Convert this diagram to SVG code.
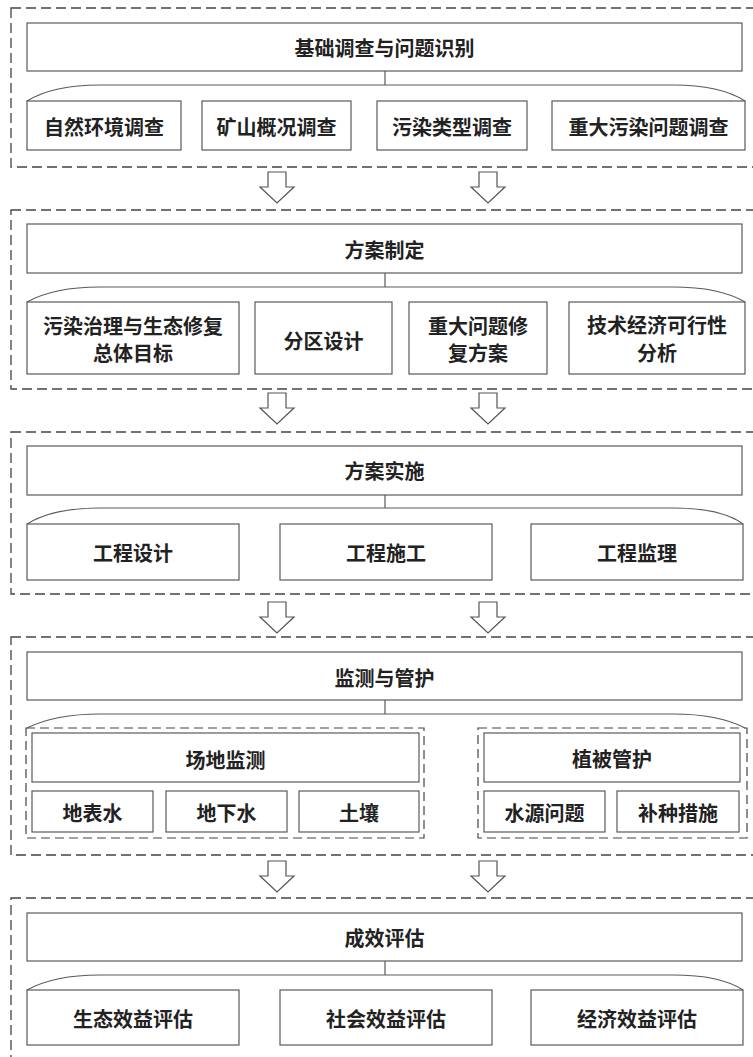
<svg xmlns="http://www.w3.org/2000/svg" width="753" height="1057" viewBox="0 0 753 1057">
<defs>
<style>
.sec{fill:none;stroke:#444;stroke-width:1.3;stroke-dasharray:10 5}
.grp{fill:none;stroke:#444;stroke-width:1.2;stroke-dasharray:9 5}
.box{fill:#fff;stroke:#5a5a5a;stroke-width:1.2}
.t{font-family:"Noto Sans CJK SC","Noto Sans CJK JP",sans-serif;font-size:20px;font-weight:bold;fill:#222;text-anchor:middle;dominant-baseline:central}
.ln{fill:none;stroke:#5a5a5a;stroke-width:1.2}
.arr{fill:#fff;stroke:#555;stroke-width:1.2;stroke-linejoin:miter}
</style>
<path id="arrow" d="M-9,0 H9 V15 H17 L0,31 L-17,15 H-9 Z"/>
</defs>
<rect width="753" height="1057" fill="#fff"/>

<!-- Section 1 -->
<g id="sec1">
<rect class="sec" x="11" y="8" width="746" height="159"/>
<g id="n1"><rect class="box" x="27" y="23" width="715" height="48"/><text class="t" x="384.5" y="47">基础调查与问题识别</text></g>
<g id="n1a"><rect class="box" x="27" y="101" width="154" height="49"/><text class="t" x="104" y="126">自然环境调查</text></g>
<g id="n1b"><rect class="box" x="202" y="101" width="149" height="49"/><text class="t" x="276.5" y="126">矿山概况调查</text></g>
<g id="n1c"><rect class="box" x="377" y="101" width="150" height="49"/><text class="t" x="452" y="126">污染类型调查</text></g>
<g id="n1d"><rect class="box" x="552" y="101" width="193" height="49"/><text class="t" x="648.5" y="126">重大污染问题调查</text></g>
</g>

<!-- Section 2 -->
<g id="sec2">
<rect class="sec" x="11" y="210" width="746" height="179"/>
<g id="n2"><rect class="box" x="27" y="224" width="715" height="49"/><text class="t" x="384.5" y="249">方案制定</text></g>
<g id="n2a"><rect class="box" x="27" y="302" width="212" height="72"/><text class="t" x="133" y="325">污染治理与生态修复</text><text class="t" x="133" y="352">总体目标</text></g>
<g id="n2b"><rect class="box" x="255" y="302" width="137" height="72"/><text class="t" x="323.5" y="340">分区设计</text></g>
<g id="n2c"><rect class="box" x="409" y="302" width="138" height="72"/><text class="t" x="478" y="325">重大问题修</text><text class="t" x="478" y="352">复方案</text></g>
<g id="n2d"><rect class="box" x="569" y="302" width="176" height="72"/><text class="t" x="657" y="324">技术经济可行性</text><text class="t" x="657" y="352">分析</text></g>
</g>

<!-- Section 3 -->
<g id="sec3">
<rect class="sec" x="11" y="432" width="746" height="162"/>
<g id="n3"><rect class="box" x="27" y="446" width="715" height="49"/><text class="t" x="384.5" y="470">方案实施</text></g>
<g id="n3a"><rect class="box" x="27" y="524" width="212" height="56"/><text class="t" x="133" y="552">工程设计</text></g>
<g id="n3b"><rect class="box" x="280" y="524" width="212" height="56"/><text class="t" x="386" y="552">工程施工</text></g>
<g id="n3c"><rect class="box" x="531" y="524" width="212" height="56"/><text class="t" x="637" y="552">工程监理</text></g>
</g>

<!-- Section 4 -->
<g id="sec4">
<rect class="sec" x="11" y="637" width="746" height="218"/>
<g id="n4"><rect class="box" x="27" y="652" width="715" height="48"/><text class="t" x="384.5" y="677">监测与管护</text></g>
<g id="g4a">
<rect class="grp" x="26" y="728" width="398" height="110"/>
<g id="n4a"><rect class="box" x="32" y="733" width="387" height="49"/><text class="t" x="225.5" y="759">场地监测</text></g>
<g id="n4a1"><rect class="box" x="32" y="791" width="121" height="41"/><text class="t" x="92.5" y="812">地表水</text></g>
<g id="n4a2"><rect class="box" x="166" y="791" width="121" height="41"/><text class="t" x="226.5" y="812">地下水</text></g>
<g id="n4a3"><rect class="box" x="299" y="791" width="120" height="41"/><text class="t" x="359" y="812">土壤</text></g>
</g>
<g id="g4b">
<rect class="grp" x="478" y="728" width="269" height="110"/>
<g id="n4b"><rect class="box" x="484" y="733" width="256" height="49"/><text class="t" x="612" y="758">植被管护</text></g>
<g id="n4b1"><rect class="box" x="484" y="791" width="121" height="41"/><text class="t" x="544.5" y="812">水源问题</text></g>
<g id="n4b2"><rect class="box" x="617" y="791" width="122" height="41"/><text class="t" x="678" y="812">补种措施</text></g>
</g>
</g>

<!-- Section 5 -->
<g id="sec5">
<rect class="sec" x="11" y="898" width="746" height="170"/>
<g id="n5"><rect class="box" x="27" y="913" width="715" height="48"/><text class="t" x="384.5" y="937">成效评估</text></g>
<g id="n5a"><rect class="box" x="27" y="990" width="212" height="55"/><text class="t" x="133" y="1018">生态效益评估</text></g>
<g id="n5b"><rect class="box" x="280" y="990" width="212" height="55"/><text class="t" x="386" y="1018">社会效益评估</text></g>
<g id="n5c"><rect class="box" x="531" y="990" width="212" height="55"/><text class="t" x="637" y="1018">经济效益评估</text></g>
</g>

<!-- Connectors -->
<g id="connectors">
<path class="ln" d="M385,71 V85 M27,101 C45,90 70,85 100,85 H673 C703,85 728,90 745,101"/>
<path class="ln" d="M385,273 V287 M27,302 C45,292 70,287 100,287 H673 C703,287 728,292 745,302"/>
<path class="ln" d="M385,495 V508 M27,524 C45,513 70,508 100,508 H673 C703,508 728,513 743,524"/>
<path class="ln" d="M385,700 V714 M27,728 C45,719 70,714 100,714 H673 C703,714 728,719 745,728"/>
<path class="ln" d="M385,961 V975 M27,990 C45,980 70,975 100,975 H673 C703,975 728,980 743,990"/>
<use href="#arrow" class="arr" x="277" y="172"/>
<use href="#arrow" class="arr" x="488" y="172"/>
<use href="#arrow" class="arr" x="277" y="393"/>
<use href="#arrow" class="arr" x="488" y="393"/>
<use href="#arrow" class="arr" x="277" y="602"/>
<use href="#arrow" class="arr" x="488" y="602"/>
<use href="#arrow" class="arr" x="277" y="861"/>
<use href="#arrow" class="arr" x="488" y="861"/>
</g>
</svg>
